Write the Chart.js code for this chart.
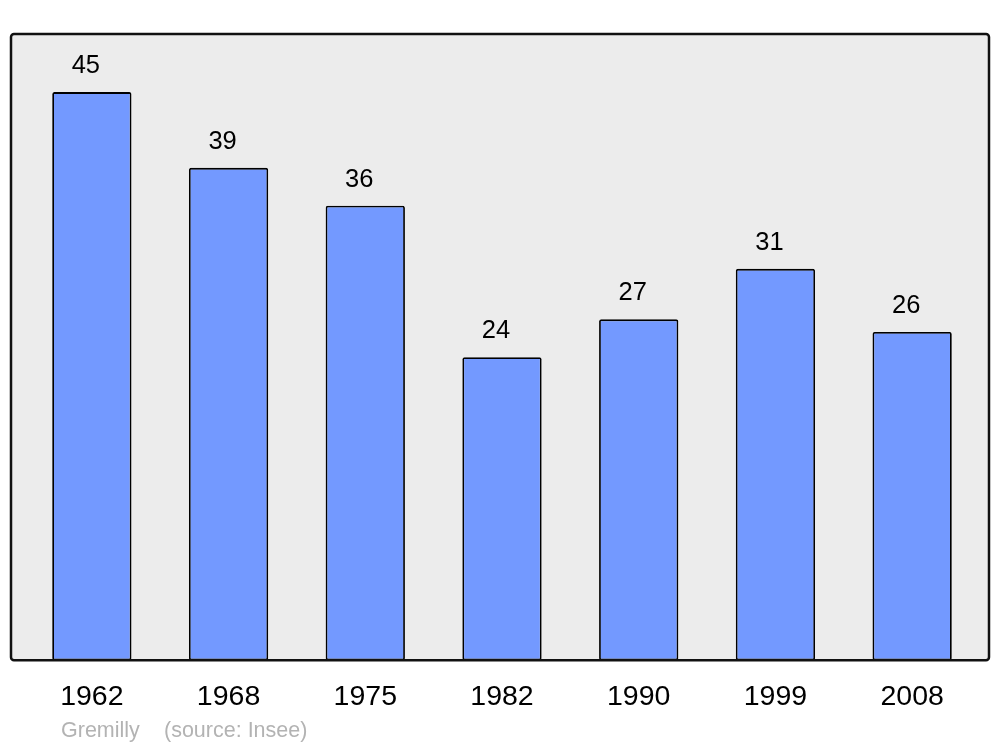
<!DOCTYPE html>
<html>
<head>
<meta charset="utf-8">
<script src="https://cdn.jsdelivr.net/npm/chart.js@4"></script>
<style>
  html, body { margin: 0; padding: 0; background: #fff; }
  #wrap { width: 1000px; height: 747px; }
</style>
</head>
<body>
<div id="wrap"><canvas id="chart" width="1000" height="747"></canvas></div>
<script>
// Population de Gremilly (source: Insee)
const years = ['1962', '1968', '1975', '1982', '1990', '1999', '2008'];
const population = [45, 39, 36, 24, 27, 31, 26];
const Y_MAX = 49.6;

const FONT = '"Liberation Sans", Arial, sans-serif';

// ─── Frame + background behind the bars ──────────────────────────────────────
const framePlugin = {
  id: 'frame',
  beforeDatasetsDraw(chart) {
    const { ctx, chartArea: a } = chart;
    const x0 = a.left - 12.5, x1 = a.right + 8.5;
    ctx.save();
    ctx.beginPath();
    ctx.roundRect(x0, a.top, x1 - x0, a.bottom - a.top, 3);
    ctx.fillStyle = '#ececec';
    ctx.fill();
    ctx.restore();
  },
  afterDatasetsDraw(chart) {
    const { ctx, chartArea: a } = chart;
    const x0 = a.left - 12.5, x1 = a.right + 8.5;
    ctx.save();
    ctx.beginPath();
    ctx.roundRect(x0, a.top, x1 - x0, a.bottom - a.top, 3);
    ctx.lineWidth = 2.5;
    ctx.strokeStyle = '#111';
    ctx.stroke();
    ctx.restore();
  },
};

// ─── Value labels above bars + footer text ───────────────────────────────────
const labelsPlugin = {
  id: 'valueLabels',
  afterDraw(chart) {
    const { ctx } = chart;
    const meta = chart.getDatasetMeta(0);
    ctx.save();
    ctx.font = '25.5px ' + FONT;
    ctx.fillStyle = '#000';
    ctx.textAlign = 'center';
    ctx.textBaseline = 'middle';
    meta.data.forEach((bar, i) => {
      ctx.fillText(String(population[i]), bar.x - 6, bar.y - 26);
    });
    ctx.font = '21.5px ' + FONT;
    ctx.fillStyle = '#b3b3b3';
    ctx.textAlign = 'left';
    ctx.fillText('Gremilly', 61, 731);
    ctx.fillText('(source: Insee)', 164, 731);
    ctx.restore();
  },
};

new Chart(document.getElementById('chart'), {
  type: 'bar',
  data: {
    labels: years,
    datasets: [{
      data: population,
      backgroundColor: '#7399ff',
      borderColor: '#000',
      borderWidth: 1.8,
      borderRadius: 2,
      borderSkipped: false,
      barPercentage: 0.58,
      categoryPercentage: 1,
    }],
  },
  options: {
    responsive: false,
    animation: false,
    layout: { padding: { left: 23.5, right: 19.5, top: 34, bottom: 12.6 } },
    plugins: { legend: { display: false }, tooltip: { enabled: false } },
    scales: {
      x: {
        grid: { display: false, drawTicks: false },
        border: { display: false },
        ticks: { color: '#000', font: { family: FONT, size: 28.5 }, padding: 20 },
      },
      y: { display: false, min: 0, max: Y_MAX },
    },
  },
  plugins: [framePlugin, labelsPlugin],
});
</script>
</body>
</html>
